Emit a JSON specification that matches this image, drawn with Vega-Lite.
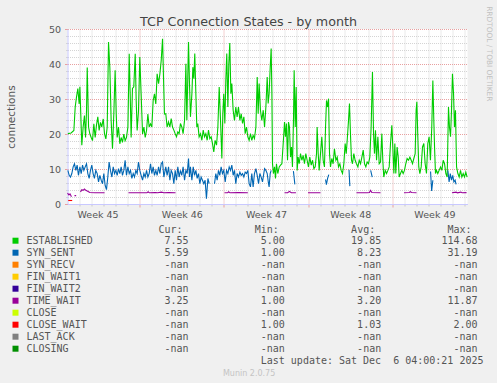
{
  "$schema": "https://vega.github.io/schema/vega-lite/v6.json",
  "background": "#f0f0f0",
  "padding": {"left": 5.5, "top": 5, "right": 10, "bottom": 10},
  "spacing": 5.7,
  "config": {
    "font": "DejaVu Sans",
    "view": {"stroke": null},
    "axis": {"labelFont": "DejaVu Sans", "titleFont": "DejaVu Sans", "labelColor": "#555555", "titleColor": "#555555", "titleFontWeight": "normal"},
    "title": {"fontWeight": "normal", "font": "DejaVu Sans"}
  },
  "title": {"text": "Munin 2.0.75", "orient": "bottom", "anchor": "middle", "fontSize": 8, "color": "#c4c4c4", "offset": 4},
  "resolve": {"scale": {"color": "independent"}, "legend": {"color": "independent"}},
  "datasets": {
    "established": [
      {"day":0.03,"value":20.1},{"day":0.30,"value":20.3},{"day":0.53,"value":21.0},{"day":0.64,"value":27.7},{"day":0.75,"value":30.6},{"day":0.86,"value":33.0},{"day":0.97,"value":28.6},{"day":1.03,"value":33.5},{"day":1.14,"value":22.0},{"day":1.19,"value":16.8},{"day":1.30,"value":22.0},{"day":1.41,"value":25.3},{"day":1.50,"value":19.0},{"day":1.58,"value":26.5},{"day":1.64,"value":39.0},{"day":1.69,"value":31.5},{"day":1.75,"value":22.0},{"day":1.86,"value":20.0},{"day":1.97,"value":19.0},{"day":2.08,"value":18.1},{"day":2.19,"value":22.9},{"day":2.30,"value":19.0},{"day":2.41,"value":22.6},{"day":2.52,"value":24.9},{"day":2.63,"value":21.0},{"day":2.74,"value":23.3},{"day":2.85,"value":22.0},{"day":2.97,"value":24.3},{"day":3.08,"value":20.0},{"day":3.19,"value":18.6},{"day":3.30,"value":22.0},{"day":3.41,"value":46.3},{"day":3.52,"value":39.0},{"day":3.63,"value":23.7},{"day":3.74,"value":15.8},{"day":3.85,"value":25.7},{"day":3.96,"value":38.2},{"day":4.05,"value":25.7},{"day":4.13,"value":19.0},{"day":4.24,"value":22.0},{"day":4.35,"value":17.2},{"day":4.46,"value":19.0},{"day":4.57,"value":17.6},{"day":4.68,"value":20.0},{"day":4.79,"value":18.1},{"day":4.90,"value":19.0},{"day":5.02,"value":22.0},{"day":5.13,"value":42.9},{"day":5.21,"value":31.5},{"day":5.29,"value":19.0},{"day":5.40,"value":33.0},{"day":5.51,"value":33.5},{"day":5.63,"value":42.9},{"day":5.71,"value":29.5},{"day":5.79,"value":21.0},{"day":5.90,"value":26.5},{"day":6.01,"value":42.0},{"day":6.12,"value":31.5},{"day":6.24,"value":20.0},{"day":6.35,"value":22.0},{"day":6.46,"value":19.0},{"day":6.57,"value":21.0},{"day":6.68,"value":25.7},{"day":6.79,"value":22.0},{"day":6.90,"value":22.9},{"day":7.01,"value":22.0},{"day":7.12,"value":29.5},{"day":7.23,"value":31.5},{"day":7.34,"value":28.6},{"day":7.45,"value":37.2},{"day":7.57,"value":34.4},{"day":7.68,"value":37.2},{"day":7.79,"value":41.0},{"day":7.90,"value":47.2},{"day":7.98,"value":36.2},{"day":8.06,"value":25.7},{"day":8.17,"value":25.8},{"day":8.28,"value":22.0},{"day":8.40,"value":23.4},{"day":8.51,"value":22.0},{"day":8.62,"value":24.4},{"day":8.73,"value":22.0},{"day":8.84,"value":21.1},{"day":8.95,"value":20.1},{"day":9.06,"value":19.2},{"day":9.17,"value":20.6},{"day":9.28,"value":20.1},{"day":9.39,"value":23.0},{"day":9.50,"value":22.0},{"day":9.61,"value":20.1},{"day":9.73,"value":23.9},{"day":9.84,"value":40.1},{"day":9.92,"value":23.9},{"day":10.00,"value":36.3},{"day":10.06,"value":46.3},{"day":10.14,"value":34.4},{"day":10.22,"value":24.9},{"day":10.34,"value":31.5},{"day":10.42,"value":39.1},{"day":10.50,"value":35.8},{"day":10.58,"value":43.0},{"day":10.67,"value":31.5},{"day":10.75,"value":22.0},{"day":10.83,"value":23.0},{"day":10.94,"value":19.2},{"day":11.06,"value":20.1},{"day":11.17,"value":18.2},{"day":11.28,"value":21.1},{"day":11.39,"value":19.2},{"day":11.50,"value":20.1},{"day":11.61,"value":18.2},{"day":11.72,"value":21.1},{"day":11.83,"value":18.7},{"day":11.94,"value":19.2},{"day":12.05,"value":17.3},{"day":12.16,"value":14.9},{"day":12.27,"value":18.2},{"day":12.39,"value":16.8},{"day":12.50,"value":22.0},{"day":12.61,"value":33.4},{"day":12.72,"value":23.9},{"day":12.83,"value":13.0},{"day":12.91,"value":25.8},{"day":12.99,"value":31.5},{"day":13.08,"value":23.0},{"day":13.16,"value":35.3},{"day":13.24,"value":43.0},{"day":13.33,"value":27.7},{"day":13.41,"value":40.1},{"day":13.49,"value":46.0},{"day":13.58,"value":31.5},{"day":13.66,"value":34.4},{"day":13.77,"value":26.8},{"day":13.88,"value":23.9},{"day":13.99,"value":27.7},{"day":14.10,"value":24.9},{"day":14.21,"value":27.7},{"day":14.33,"value":23.9},{"day":14.44,"value":25.8},{"day":14.55,"value":23.0},{"day":14.66,"value":24.9},{"day":14.77,"value":20.1},{"day":14.88,"value":22.0},{"day":14.99,"value":19.2},{"day":15.10,"value":18.2},{"day":15.21,"value":20.1},{"day":15.32,"value":18.2},{"day":15.43,"value":19.6},{"day":15.54,"value":18.7},{"day":15.66,"value":22.0},{"day":15.77,"value":36.3},{"day":15.85,"value":25.8},{"day":15.93,"value":34.4},{"day":16.04,"value":26.8},{"day":16.15,"value":23.9},{"day":16.27,"value":26.8},{"day":16.38,"value":22.0},{"day":16.49,"value":27.7},{"day":16.60,"value":36.3},{"day":16.68,"value":28.7},{"day":16.76,"value":31.5},{"day":16.85,"value":39.1},{"day":16.93,"value":44.4},{"day":16.99,"value":31.5},{"day":17.04,"value":11.5},{"day":17.12,"value":8.7},{"day":17.21,"value":10.6},{"day":17.29,"value":7.3},{"day":17.37,"value":11.5},{"day":17.48,"value":8.7},{"day":17.60,"value":10.6},{"day":17.71,"value":11.1},{"day":17.82,"value":11.5},{"day":17.93,"value":17.3},{"day":18.04,"value":23.4},{"day":18.12,"value":19.2},{"day":18.20,"value":23.0},{"day":18.29,"value":12.5},{"day":18.37,"value":23.4},{"day":18.45,"value":22.0},{"day":18.54,"value":13.4},{"day":18.62,"value":16.3},{"day":18.70,"value":10.6},{"day":18.79,"value":24.9},{"day":18.84,"value":38.2},{"day":18.93,"value":22.0},{"day":19.01,"value":33.4},{"day":19.09,"value":9.6},{"day":19.17,"value":13.4},{"day":19.26,"value":11.5},{"day":19.37,"value":14.4},{"day":19.48,"value":12.5},{"day":19.59,"value":13.9},{"day":19.70,"value":11.5},{"day":19.81,"value":14.4},{"day":19.92,"value":12.5},{"day":20.03,"value":10.6},{"day":20.14,"value":13.4},{"day":20.26,"value":11.1},{"day":20.37,"value":12.5},{"day":20.48,"value":10.1},{"day":20.59,"value":10.6},{"day":20.70,"value":14.4},{"day":20.75,"value":22.0},{"day":20.84,"value":14.4},{"day":20.92,"value":9.6},{"day":21.03,"value":14.4},{"day":21.14,"value":19.2},{"day":21.25,"value":12.5},{"day":21.36,"value":10.6},{"day":21.45,"value":22.0},{"day":21.53,"value":29.6},{"day":21.61,"value":27.7},{"day":21.70,"value":30.1},{"day":21.78,"value":14.4},{"day":21.86,"value":10.6},{"day":21.97,"value":13.0},{"day":22.08,"value":11.5},{"day":22.19,"value":15.8},{"day":22.31,"value":12.5},{"day":22.42,"value":13.4},{"day":22.53,"value":10.6},{"day":22.64,"value":11.5},{"day":22.75,"value":9.6},{"day":22.86,"value":8.7},{"day":22.97,"value":11.5},{"day":23.08,"value":17.3},{"day":23.17,"value":14.4},{"day":23.25,"value":18.2},{"day":23.36,"value":23.9},{"day":23.44,"value":28.7},{"day":23.53,"value":19.2},{"day":23.61,"value":12.5},{"day":23.69,"value":11.5},{"day":23.80,"value":14.4},{"day":23.91,"value":12.5},{"day":24.02,"value":11.5},{"day":24.14,"value":10.6},{"day":24.25,"value":12.5},{"day":24.36,"value":11.5},{"day":24.47,"value":13.4},{"day":24.58,"value":15.4},{"day":24.69,"value":11.5},{"day":24.80,"value":10.6},{"day":24.91,"value":12.0},{"day":25.02,"value":11.5},{"day":25.13,"value":13.4},{"day":25.24,"value":22.0},{"day":25.35,"value":37.7},{"day":25.44,"value":20.1},{"day":25.52,"value":14.4},{"day":25.60,"value":21.1},{"day":25.69,"value":12.5},{"day":25.80,"value":19.2},{"day":25.91,"value":11.5},{"day":26.02,"value":12.0},{"day":26.13,"value":20.1},{"day":26.21,"value":12.5},{"day":26.29,"value":7.7},{"day":26.41,"value":9.6},{"day":26.52,"value":8.7},{"day":26.63,"value":9.6},{"day":26.74,"value":10.6},{"day":26.85,"value":17.3},{"day":26.96,"value":22.5},{"day":27.04,"value":16.3},{"day":27.13,"value":8.7},{"day":27.21,"value":17.3},{"day":27.29,"value":8.7},{"day":27.40,"value":16.3},{"day":27.49,"value":13.4},{"day":27.57,"value":7.7},{"day":27.68,"value":8.7},{"day":27.79,"value":9.6},{"day":27.90,"value":8.7},{"day":28.01,"value":9.6},{"day":28.12,"value":11.5},{"day":28.23,"value":13.0},{"day":28.35,"value":12.5},{"day":28.46,"value":13.4},{"day":28.57,"value":12.5},{"day":28.68,"value":11.5},{"day":28.79,"value":13.0},{"day":28.90,"value":14.4},{"day":28.98,"value":26.8},{"day":29.04,"value":29.2},{"day":29.12,"value":19.2},{"day":29.20,"value":10.6},{"day":29.29,"value":8.7},{"day":29.40,"value":10.6},{"day":29.51,"value":16.3},{"day":29.62,"value":17.3},{"day":29.73,"value":11.5},{"day":29.84,"value":8.7},{"day":29.95,"value":17.3},{"day":30.06,"value":19.2},{"day":30.17,"value":12.5},{"day":30.28,"value":22.0},{"day":30.37,"value":35.3},{"day":30.45,"value":23.9},{"day":30.51,"value":16.3},{"day":30.59,"value":8.7},{"day":30.67,"value":9.6},{"day":30.78,"value":8.7},{"day":30.89,"value":9.6},{"day":31.01,"value":10.6},{"day":31.12,"value":9.6},{"day":31.23,"value":12.5},{"day":31.34,"value":11.5},{"day":31.45,"value":8.7},{"day":31.56,"value":7.7},{"day":31.67,"value":27.7},{"day":31.75,"value":22.0},{"day":31.84,"value":19.2},{"day":31.92,"value":26.8},{"day":32.00,"value":37.2},{"day":32.09,"value":31.5},{"day":32.17,"value":22.0},{"day":32.25,"value":26.8},{"day":32.34,"value":10.6},{"day":32.45,"value":8.7},{"day":32.56,"value":7.7},{"day":32.67,"value":9.6},{"day":32.78,"value":7.7},{"day":32.89,"value":8.7},{"day":33.00,"value":7.7},{"day":33.11,"value":9.1},{"day":33.22,"value":7.7}
    ],
    "synsent": [
      {"day":0.03,"value":9.6},{"day":0.14,"value":8.2},{"day":0.25,"value":7.7},{"day":0.36,"value":8.7},{"day":0.47,"value":10.6},{"day":0.58,"value":11.5},{"day":0.69,"value":9.6},{"day":0.80,"value":11.1},{"day":0.91,"value":8.2},{"day":1.03,"value":10.6},{"day":1.14,"value":8.7},{"day":1.25,"value":11.1},{"day":1.36,"value":9.6},{"day":1.47,"value":10.6},{"day":1.58,"value":11.5},{"day":1.69,"value":8.7},{"day":1.80,"value":7.3},{"day":1.91,"value":9.6},{"day":2.02,"value":11.1},{"day":2.13,"value":8.7},{"day":2.24,"value":7.3},{"day":2.35,"value":9.6},{"day":2.47,"value":8.7},{"day":2.58,"value":6.3},{"day":2.69,"value":8.2},{"day":2.80,"value":6.8},{"day":2.91,"value":5.8},{"day":3.02,"value":8.7},{"day":3.13,"value":5.3},{"day":3.24,"value":4.1},{"day":3.35,"value":7.7},{"day":3.46,"value":12.0},{"day":3.57,"value":9.6},{"day":3.69,"value":7.7},{"day":3.80,"value":10.6},{"day":3.91,"value":8.7},{"day":4.02,"value":9.6},{"day":4.13,"value":8.2},{"day":4.24,"value":10.1},{"day":4.35,"value":8.7},{"day":4.46,"value":10.6},{"day":4.57,"value":8.2},{"day":4.68,"value":9.6},{"day":4.79,"value":12.5},{"day":4.90,"value":8.2},{"day":5.02,"value":10.6},{"day":5.13,"value":8.7},{"day":5.24,"value":9.6},{"day":5.35,"value":7.3},{"day":5.46,"value":8.7},{"day":5.57,"value":7.7},{"day":5.68,"value":9.6},{"day":5.79,"value":8.7},{"day":5.90,"value":12.0},{"day":6.01,"value":9.6},{"day":6.12,"value":8.2},{"day":6.24,"value":6.8},{"day":6.35,"value":8.7},{"day":6.46,"value":7.7},{"day":6.57,"value":9.6},{"day":6.68,"value":7.7},{"day":6.79,"value":8.7},{"day":6.90,"value":11.5},{"day":7.01,"value":8.7},{"day":7.12,"value":10.6},{"day":7.23,"value":8.2},{"day":7.34,"value":9.6},{"day":7.45,"value":8.2},{"day":7.57,"value":10.6},{"day":7.68,"value":8.7},{"day":7.79,"value":11.5},{"day":7.90,"value":12.0},{"day":8.01,"value":7.7},{"day":8.17,"value":10.6},{"day":8.28,"value":8.2},{"day":8.40,"value":10.6},{"day":8.51,"value":6.8},{"day":8.62,"value":9.6},{"day":8.73,"value":8.7},{"day":8.84,"value":5.8},{"day":8.95,"value":9.6},{"day":9.06,"value":6.8},{"day":9.17,"value":10.6},{"day":9.28,"value":7.7},{"day":9.39,"value":9.6},{"day":9.50,"value":8.2},{"day":9.61,"value":10.6},{"day":9.73,"value":6.8},{"day":9.84,"value":9.6},{"day":9.95,"value":8.7},{"day":10.06,"value":13.0},{"day":10.14,"value":7.7},{"day":10.22,"value":10.6},{"day":10.34,"value":6.8},{"day":10.45,"value":10.6},{"day":10.56,"value":8.2},{"day":10.67,"value":9.6},{"day":10.78,"value":7.3},{"day":10.89,"value":8.7},{"day":11.00,"value":5.8},{"day":11.11,"value":7.7},{"day":11.22,"value":6.8},{"day":11.33,"value":5.8},{"day":11.44,"value":6.8},{"day":11.55,"value":1.5},{"day":11.67,"value":7.3},{"day":11.78,"value":5.8},{"day":11.95,"value":null},{"day":12.22,"value":5.8},{"day":12.33,"value":8.7},{"day":12.44,"value":6.8},{"day":12.55,"value":9.6},{"day":12.66,"value":8.2},{"day":12.77,"value":10.6},{"day":12.88,"value":8.7},{"day":12.99,"value":9.6},{"day":13.11,"value":6.3},{"day":13.22,"value":9.6},{"day":13.33,"value":8.7},{"day":13.44,"value":10.6},{"day":13.55,"value":9.6},{"day":13.66,"value":11.1},{"day":13.77,"value":8.2},{"day":13.88,"value":9.6},{"day":13.99,"value":5.8},{"day":14.10,"value":8.7},{"day":14.21,"value":7.7},{"day":14.33,"value":9.1},{"day":14.44,"value":8.2},{"day":14.55,"value":8.7},{"day":14.66,"value":7.7},{"day":14.77,"value":9.1},{"day":14.88,"value":8.7},{"day":14.99,"value":9.6},{"day":15.10,"value":5.8},{"day":15.21,"value":4.9},{"day":15.32,"value":8.7},{"day":15.43,"value":4.9},{"day":15.54,"value":8.7},{"day":15.66,"value":10.1},{"day":15.77,"value":8.2},{"day":15.88,"value":5.8},{"day":15.99,"value":8.7},{"day":16.10,"value":7.7},{"day":16.21,"value":6.3},{"day":16.38,"value":10.1},{"day":16.49,"value":9.6},{"day":16.60,"value":8.7},{"day":16.71,"value":5.8},{"day":16.76,"value":4.9},{"day":16.85,"value":8.7},{"day":16.93,"value":9.6},{"day":17.05,"value":null},{"day":18.78,"value":9.4},{"day":18.84,"value":7.5},{"day":18.90,"value":5.6},{"day":19.00,"value":null},{"day":21.45,"value":7.0},{"day":21.52,"value":5.5},{"day":21.62,"value":7.3},{"day":21.72,"value":8.4},{"day":21.80,"value":null},{"day":23.40,"value":9.8},{"day":23.47,"value":5.1},{"day":23.55,"value":null},{"day":25.20,"value":9.6},{"day":25.33,"value":7.7},{"day":25.40,"value":null},{"day":30.18,"value":9.3},{"day":30.27,"value":3.7},{"day":30.37,"value":6.8},{"day":30.45,"value":null},{"day":31.62,"value":9.6},{"day":31.72,"value":6.3},{"day":31.82,"value":8.7},{"day":31.92,"value":6.8},{"day":32.02,"value":8.2},{"day":32.12,"value":6.3},{"day":32.22,"value":6.8},{"day":32.30,"value":5.6}
    ],
    "timewait": [
      {"day":0.00,"value":3.1},{"day":0.12,"value":2.6},{"day":0.21,"value":2.9},{"day":0.33,"value":2.1},{"day":0.45,"value":null},{"day":0.58,"value":2.4},{"day":0.72,"value":2.4},{"day":0.85,"value":null},{"day":1.08,"value":3.4},{"day":1.19,"value":4.1},{"day":1.30,"value":3.9},{"day":1.41,"value":4.3},{"day":1.52,"value":3.9},{"day":1.64,"value":3.7},{"day":1.75,"value":3.5},{"day":1.86,"value":3.3},{"day":2.30,"value":3.2},{"day":2.70,"value":3.2},{"day":3.08,"value":3.2},{"day":3.25,"value":null},{"day":5.07,"value":3.2},{"day":6.60,"value":3.2},{"day":6.70,"value":3.5},{"day":6.80,"value":3.2},{"day":7.30,"value":3.3},{"day":7.50,"value":3.2},{"day":7.80,"value":3.4},{"day":8.00,"value":3.2},{"day":8.40,"value":3.3},{"day":8.98,"value":3.2},{"day":9.10,"value":null},{"day":13.05,"value":3.2},{"day":13.30,"value":3.2},{"day":13.40,"value":3.5},{"day":13.50,"value":3.2},{"day":14.20,"value":3.3},{"day":14.99,"value":3.2},{"day":15.10,"value":null},{"day":18.04,"value":3.2},{"day":18.30,"value":3.2},{"day":18.45,"value":3.6},{"day":18.60,"value":3.2},{"day":18.99,"value":3.2},{"day":19.10,"value":null},{"day":19.99,"value":3.2},{"day":21.03,"value":3.2},{"day":21.20,"value":null},{"day":24.02,"value":3.2},{"day":24.90,"value":3.2},{"day":25.10,"value":3.3},{"day":25.19,"value":3.9},{"day":25.30,"value":3.3},{"day":26.02,"value":3.2},{"day":26.20,"value":null},{"day":27.97,"value":3.2},{"day":28.40,"value":3.3},{"day":28.50,"value":3.5},{"day":28.60,"value":3.3},{"day":29.01,"value":3.2},{"day":29.20,"value":null},{"day":31.96,"value":3.2},{"day":32.30,"value":3.4},{"day":32.40,"value":3.2},{"day":32.70,"value":3.4},{"day":32.80,"value":3.2},{"day":33.17,"value":3.25}
    ],
    "closewait": [
      {"day":0.06,"value":1.0},{"day":0.39,"value":1.0}
    ],
    "table": [
      {"state":"ESTABLISHED","cur":"7.55","min":"5.00","avg":"19.85","max":"114.68"},
      {"state":"SYN_SENT","cur":"5.59","min":"1.00","avg":"8.23","max":"31.19"},
      {"state":"SYN_RECV","cur":"-nan","min":"-nan","avg":"-nan","max":"-nan"},
      {"state":"FIN_WAIT1","cur":"-nan","min":"-nan","avg":"-nan","max":"-nan"},
      {"state":"FIN_WAIT2","cur":"-nan","min":"-nan","avg":"-nan","max":"-nan"},
      {"state":"TIME_WAIT","cur":"3.25","min":"1.00","avg":"3.20","max":"11.87"},
      {"state":"CLOSE","cur":"-nan","min":"-nan","avg":"-nan","max":"-nan"},
      {"state":"CLOSE_WAIT","cur":"-nan","min":"1.00","avg":"1.03","max":"2.00"},
      {"state":"LAST_ACK","cur":"-nan","min":"-nan","avg":"-nan","max":"-nan"},
      {"state":"CLOSING","cur":"-nan","min":"-nan","avg":"-nan","max":"-nan"}
    ]
  },
  "vconcat": [
    {
      "width": 400,
      "height": 175,
      "view": {"fill": "white", "stroke": null},
      "title": {"text": "TCP Connection States - by month", "frame": "group", "anchor": "middle", "dx": -19, "fontSize": 12.7, "color": "#444444", "offset": -32.7, "baseline": "alphabetic"},
      "resolve": {"axis": {"x": "independent", "y": "independent"}},
      "layer": [
        {
          "data": {"name": "established"},
          "mark": {"type": "line", "strokeWidth": 1.1},
          "encoding": {
            "x": {"field": "day", "type": "quantitative", "scale": {"domain": [0, 33.25], "nice": false, "zero": false},
              "axis": {"orient": "bottom", "values": [1,2,3,4,5,7,8,9,10,11,12,14,15,16,17,18,19,21,22,23,24,25,26,28,29,30,31,32,33], "grid": true, "gridColor": "#d4d4d4", "gridDash": [1,1], "ticks": true, "tickSize": 2, "tickColor": "#c8c8c8", "labels": false, "domain": false, "title": null}},
            "y": {"field": "value", "type": "quantitative", "scale": {"domain": [0, 50], "nice": false},
              "axis": {"orient": "left", "values": [2,4,6,8,12,14,16,18,22,24,26,28,32,34,36,38,42,44,46,48], "grid": true, "gridColor": "#d4d4d4", "gridDash": [1,1], "ticks": true, "tickSize": 2, "tickColor": "#d4d4d4", "labels": false, "domain": false, "title": null}},
            "color": {"datum": "ESTABLISHED", "type": "nominal", "legend": null,
              "scale": {"domain": ["ESTABLISHED","SYN_SENT","SYN_RECV","FIN_WAIT1","FIN_WAIT2","TIME_WAIT","CLOSE","CLOSE_WAIT","LAST_ACK","CLOSING"], "range": ["#00cc00","#0066b3","#ff8000","#ffcc00","#330099","#990099","#ccff00","#ff0000","#808080","#008f00"]}}
          }
        },
        {
          "data": {"name": "synsent"},
          "mark": {"type": "line", "strokeWidth": 1.1, "invalid": "break-paths-show-domains"},
          "encoding": {
            "x": {"field": "day", "type": "quantitative",
              "axis": {"orient": "bottom", "values": [6,13,20,27], "grid": true, "gridColor": "#e8a0a0", "gridDash": [1,1], "ticks": true, "tickSize": 3, "tickColor": "#e8a0a0", "labels": false, "domain": false, "title": null}},
            "y": {"field": "value", "type": "quantitative",
              "axis": {"orient": "left", "values": [0,10,20,30,40,50], "grid": true, "gridColor": {"condition": {"test": "datum.value === 0", "value": "transparent"}, "value": "#e8a0a0"}, "gridDash": [1,1], "ticks": true, "tickSize": 3, "tickColor": "#e8a0a0", "labels": true, "labelFontSize": 9.5, "labelPadding": 4, "domain": true, "domainColor": "#c8c8ff", "title": "connections", "titleFontSize": 10.5, "titleX": -56.3, "titleY": 87.5, "titleAngle": -90, "titleBaseline": "middle", "titleAlign": "center"}},
            "color": {"datum": "SYN_SENT", "type": "nominal", "legend": null}
          }
        },
        {
          "data": {"name": "timewait"},
          "mark": {"type": "line", "strokeWidth": 1.1, "invalid": "break-paths-show-domains"},
          "encoding": {
            "x": {"field": "day", "type": "quantitative",
              "axis": {"orient": "bottom", "values": [2.5,9.5,16.5,23.5,30.5], "labelExpr": "'Week ' + (45 + floor(datum.value / 7))", "grid": false, "ticks": false, "labelPadding": 5, "labelFontSize": 9.5, "domain": true, "domainColor": "#c8c8ff", "title": null}},
            "y": {"field": "value", "type": "quantitative",
              "axis": {"orient": "right", "labels": false, "ticks": false, "domain": false, "grid": false, "title": "RRDTOOL / TOBI OETIKER", "titleFontSize": 7.4, "titleColor": "#c0c0c0", "titleAngle": 90, "titleX": 20.5, "titleY": -23.3, "titleAlign": "left", "titleBaseline": "middle"}},
            "color": {"datum": "TIME_WAIT", "type": "nominal", "legend": null}
          }
        },
        {
          "data": {"name": "closewait"},
          "mark": {"type": "line", "strokeWidth": 1.1},
          "encoding": {
            "x": {"field": "day", "type": "quantitative", "axis": null},
            "y": {"field": "value", "type": "quantitative", "axis": null},
            "color": {"datum": "CLOSE_WAIT", "type": "nominal", "legend": null}
          }
        }
      ]
    },
    {
      "width": 410,
      "height": 120,
      "view": {"fill": null, "stroke": null},
      "title": {"text": "Last update: Sat Dec\u00a0\u00a06 04:00:21 2025", "orient": "bottom", "anchor": "end", "frame": "group", "font": "DejaVu Sans Mono", "fontSize": 10, "color": "#555555", "dx": 6, "offset": 1},
      "data": {"name": "table"},
      "transform": [{"fold": ["cur", "min", "avg", "max"], "as": ["col", "txt"]}],
      "encoding": {
        "x": {"field": "col", "type": "nominal", "sort": ["cur","min","avg","max"],
          "scale": {"type": "point", "domain": ["cur","min","avg","max"], "padding": 0.6288, "align": 1},
          "axis": {"orient": "top", "labelExpr": "datum.value == 'cur' ? 'Cur:' : datum.value == 'min' ? 'Min:' : datum.value == 'avg' ? 'Avg:' : 'Max:'", "labelAlign": "right", "labelOffset": -6.5, "labelAngle": 0, "labelFont": "DejaVu Sans Mono", "labelFontSize": 10, "labelColor": "#555555", "labelPadding": 0, "ticks": false, "domain": false, "grid": false, "title": null}},
        "y": {"field": "state", "type": "nominal",
          "scale": {"type": "point", "domain": ["ESTABLISHED","SYN_SENT","SYN_RECV","FIN_WAIT1","FIN_WAIT2","TIME_WAIT","CLOSE","CLOSE_WAIT","LAST_ACK","CLOSING"], "padding": 0.5},
          "axis": null}
      },
      "layer": [
        {
          "mark": {"type": "text", "align": "right", "baseline": "middle", "font": "DejaVu Sans Mono", "fontSize": 10, "color": "#555555"},
          "encoding": {"text": {"field": "txt"}}
        },
        {
          "mark": {"type": "square", "opacity": 0, "filled": true},
          "encoding": {
            "color": {"field": "state", "type": "nominal",
              "scale": {"domain": ["ESTABLISHED","SYN_SENT","SYN_RECV","FIN_WAIT1","FIN_WAIT2","TIME_WAIT","CLOSE","CLOSE_WAIT","LAST_ACK","CLOSING"], "range": ["#00cc00","#0066b3","#ff8000","#ffcc00","#330099","#990099","#ccff00","#ff0000","#808080","#008f00"]},
              "legend": {"orient": "none", "legendX": -57, "legendY": 1, "title": null, "symbolType": "square", "symbolSize": 36, "symbolStrokeWidth": 0, "symbolOpacity": 1, "labelFont": "DejaVu Sans Mono", "labelFontSize": 10, "labelColor": "#555555", "labelOffset": 6, "rowPadding": 2, "padding": 0, "labelLimit": 0}}
          }
        }
      ]
    }
  ]
}
